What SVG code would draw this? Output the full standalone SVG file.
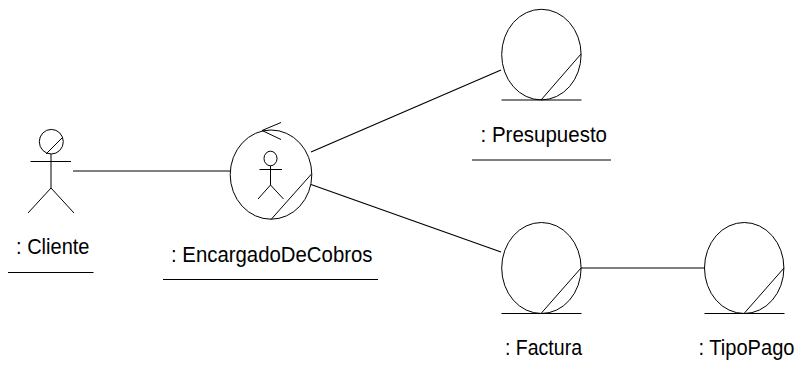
<svg xmlns="http://www.w3.org/2000/svg" width="799" height="371" viewBox="0 0 799 371">
<style>
.s{fill:none;stroke:#000;stroke-width:1}
.c{fill:none;stroke:#000;stroke-width:1.2}
text{font-family:"Liberation Sans",Arial,sans-serif;font-size:21.5px;fill:#000}
</style>
<rect width="799" height="371" fill="#fff"/>
<g id="connectors">
<path class="c" d="M73 171H230"/>
<path class="c" d="M311 152L501 70"/>
<path class="c" d="M311 184.5L501 252"/>
<path class="c" d="M581 268H704"/>
</g>
<g id="cliente">
<ellipse class="s" cx="51.3" cy="141.7" rx="12" ry="12.3"/>
<path class="s" d="M46 154L63 137M30.5 161.5H71M51 154V188L28 213M51 188L74 213"/>
<text x="16" y="254" textLength="73.5" lengthAdjust="spacingAndGlyphs">: Cliente</text>
<path class="s" d="M8 272.5H93.5"/>
</g>
<g id="encargado">
<ellipse class="s" cx="271" cy="174.6" rx="40.8" ry="44.6"/>
<path class="s" d="M271 219.5L311.5 174M281 122.5L262 130.5L281 139.5"/>
<ellipse class="s" cx="270.5" cy="158.5" rx="6.5" ry="7.3"/>
<path class="s" d="M259.5 169.5H282M270.5 165.8V185L258 199M270.5 185L283.5 199"/>
<text x="171" y="261.5" textLength="201.5" lengthAdjust="spacingAndGlyphs">: EncargadoDeCobros</text>
<path class="s" d="M163 279.5H378"/>
</g>
<g id="presupuesto">
<ellipse class="s" cx="541.4" cy="54.6" rx="39.7" ry="45.3"/>
<path class="s" d="M501.5 100H581.5M541 100L581 54"/>
<text x="480.5" y="141.5" textLength="126.5" lengthAdjust="spacingAndGlyphs">: Presupuesto</text>
<path class="s" d="M472 160H611"/>
</g>
<g id="factura">
<ellipse class="s" cx="541.4" cy="268" rx="39.7" ry="45.5"/>
<path class="s" d="M501.5 313.5H581.5M541 313.5L581 268"/>
<text x="505" y="355" textLength="77" lengthAdjust="spacingAndGlyphs">: Factura</text>
</g>
<g id="tipopago">
<ellipse class="s" cx="744.2" cy="268" rx="39.7" ry="45.5"/>
<path class="s" d="M704.5 313.5H784.5M744 313.5L784 268"/>
<text x="698.5" y="355" textLength="96" lengthAdjust="spacingAndGlyphs">: TipoPago</text>
</g>
</svg>
